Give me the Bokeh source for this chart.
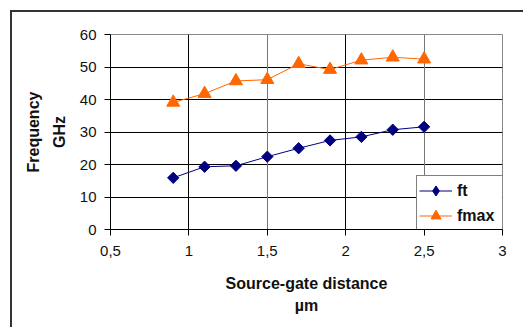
from bokeh.plotting import figure
from bokeh.models import FixedTicker, Range1d, Legend, LegendItem, Grid, ColumnDataSource
from bokeh.embed import file_html
from bokeh.resources import INLINE

x_vals = [0.9, 1.1, 1.3, 1.5, 1.7, 1.9, 2.1, 2.3, 2.5]
ft = [15.9, 19.3, 19.6, 22.4, 25.0, 27.4, 28.5, 30.7, 31.6]
fmax = [39.1, 41.8, 45.7, 46.1, 51.0, 49.2, 52.1, 53.0, 52.4]
x_ticks = [0.5, 1, 1.5, 2, 2.5, 3]
x_tick_labels = ["0,5", "1", "1,5", "2", "2,5", "3"]
y_ticks = [0, 10, 20, 30, 40, 50, 60]

FONT = "Liberation Sans"

p = figure(width=513, height=317, output_backend="svg", toolbar_location=None,
           x_range=Range1d(0.5, 3), y_range=Range1d(0, 60))
p.margin = (10, 0, 0, 10)
p.styles = {"border-top": "2px solid #333333", "border-left": "2px solid #333333"}
p.min_border = None
p.min_border_left = 98
p.min_border_right = 23
p.min_border_top = 22
p.min_border_bottom = 100
p.background_fill_color = "white"
p.border_fill_color = "white"
p.outline_line_color = "#888888"
p.outline_line_width = 1

# axes
p.xaxis.ticker = FixedTicker(ticks=x_ticks)
p.xaxis.major_label_overrides = {t: l for t, l in zip(x_ticks, x_tick_labels)}
p.yaxis.ticker = FixedTicker(ticks=y_ticks)
p.yaxis.axis_label = "Frequency\nGHz"
p.xaxis.axis_label = "Source-gate distance\nµm"
for ax in (p.xaxis[0], p.yaxis[0]):
    ax.major_label_text_font = FONT
    ax.major_label_text_font_size = "15px"
    ax.major_label_text_color = "#111111"
    ax.axis_line_color = "black"
    ax.axis_line_width = 1
    ax.major_tick_line_color = "black"
    ax.major_tick_out = 6
    ax.major_tick_in = 0
    ax.minor_tick_line_color = None
    ax.axis_label_text_font = FONT
    ax.axis_label_text_font_style = "bold"
    ax.axis_label_text_font_size = "16px"
    ax.axis_label_text_color = "#111111"
p.yaxis.axis_label_text_line_height = 1.5
p.xaxis.axis_label_text_line_height = 1.35
p.xaxis.major_label_standoff = 10
p.yaxis.major_label_standoff = 8
p.xaxis.axis_label_standoff = 16
p.yaxis.axis_label_standoff = 9

# grids
p.xgrid.ticker = FixedTicker(ticks=[1, 2])
p.xgrid.grid_line_color = "black"
p.ygrid.ticker = FixedTicker(ticks=[10, 20, 30, 40, 50])
p.ygrid.grid_line_color = "black"
g2 = Grid(dimension=0, ticker=FixedTicker(ticks=[1.5, 2.5]), grid_line_color="#777777")
p.add_layout(g2)

src_ft = ColumnDataSource(dict(x=x_vals, y=ft))
r1 = p.line("x", "y", source=src_ft, line_color="#000080", line_width=1)
# legend-only diamond, drawn beneath the real (rotated-square) markers
m1_leg = p.scatter("x", "y", source=src_ft, marker="diamond", size=6,
                   fill_color="#000080", line_color="#000080")
m1 = p.scatter("x", "y", source=src_ft, marker="square", size=8, angle=0.7854,
               fill_color="#000080", line_color="#000080")
r2 = p.line(x_vals, fmax, line_color="#FF6600", line_width=1)
m2 = p.scatter(x_vals, fmax, marker="triangle", size=13, fill_color="#FF6600", line_color="#FF6600")

legend = Legend(items=[LegendItem(label="ft", renderers=[r1, m1_leg]),
                       LegendItem(label="fmax", renderers=[r2, m2])],
                location=(306, -2))
legend.label_text_font = FONT
legend.label_text_font_style = "bold"
legend.label_text_font_size = "16px"
legend.label_text_color = "#111111"
legend.border_line_color = "black"
legend.border_line_width = 1
legend.background_fill_alpha = 1
legend.padding = 2
legend.spacing = 0
legend.margin = 2
legend.glyph_width = 33
legend.glyph_height = 25
legend.label_height = 25
legend.label_width = 45
legend.label_standoff = 5
p.add_layout(legend, "center")

open("out.html", "w").write(file_html(p, INLINE))
